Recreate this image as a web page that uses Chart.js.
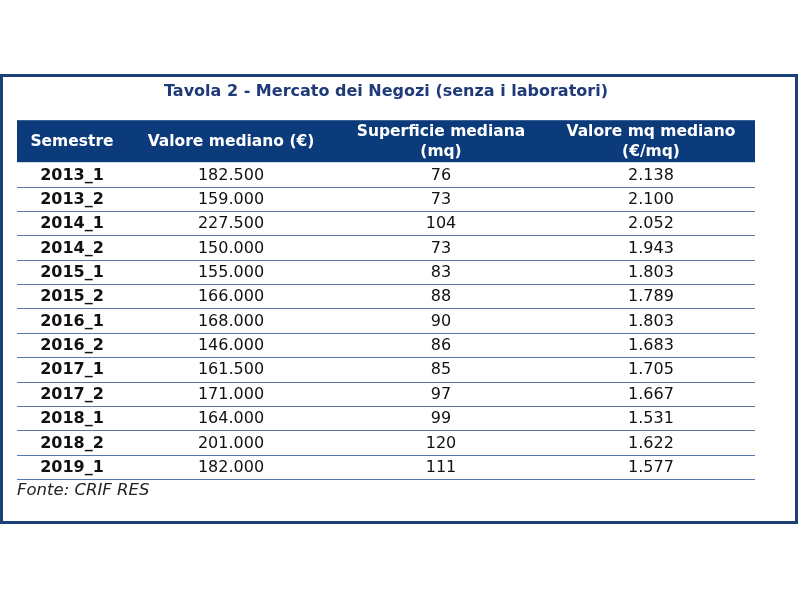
<!DOCTYPE html>
<html>
<head>
<meta charset="utf-8">
<script src="https://cdn.jsdelivr.net/npm/chart.js@4/dist/chart.umd.min.js"></script>
<style>
  html, body { margin: 0; padding: 0; background: #fff; }
  canvas { display: block; }
</style>
</head>
<body>
<canvas id="tavola" width="800" height="600"></canvas>
<script>
// Dati della tabella
const semestri = ['2013_1', '2013_2', '2014_1', '2014_2', '2015_1', '2015_2', '2016_1',
    '2016_2', '2017_1', '2017_2', '2018_1', '2018_2', '2019_1'];
const valoreMediano = [182500, 159000, 227500, 150000, 155000, 166000, 168000,
    146000, 161500, 171000, 164000, 201000, 182000];
const superficieMediana = [76, 73, 104, 73, 83, 88, 90, 86, 85, 97, 99, 120, 111];
const valoreMqMediano = [2138, 2100, 2052, 1943, 1803, 1789, 1803, 1683, 1705, 1667,
    1531, 1622, 1577];
const intestazioni = [
    ['Semestre'],
    ['Valore mediano (€)'],
    ['Superficie mediana', '(mq)'],
    ['Valore mq mediano', '(€/mq)']
];
const titolo = 'Tavola 2 - Mercato dei Negozi (senza i laboratori)';
const fonte = 'Fonte: CRIF RES';

// Larghezze colonne (unità dell'asse x)
const larghezzeColonne = [110, 208, 212, 208];
const centriColonne = larghezzeColonne.map((w, i) =>
    larghezzeColonne.slice(0, i).reduce((a, b) => a + b, 0) + w / 2);
const totaleLarghezza = larghezzeColonne.reduce((a, b) => a + b, 0);

const FONT = '"DejaVu Sans", Verdana, sans-serif';
const BLU_BORDO = '#1b3f77';
const BLU_TESTATA = '#0c3b7b';
const BLU_TITOLO = '#1f3a78';
const BLU_RIGHE = '#5576ad';

// Formattazione con separatore delle migliaia
function formatNumero(n) {
    return String(n).replace(/\B(?=(\d{3})+(?!\d))/g, '.');
}

function colonna(i, valori) {
    return valori.map((v, r) => ({ x: centriColonne[i], y: semestri[r], testo: v }));
}

const tabellaPlugin = {
    id: 'tabella',
    beforeDraw(chart) {
        const ctx = chart.ctx;
        const area = chart.chartArea;
        const xs = chart.scales.x;
        ctx.save();
        ctx.fillStyle = '#fff';
        ctx.fillRect(0, 0, chart.width, chart.height);

        // bordo esterno
        ctx.strokeStyle = BLU_BORDO;
        ctx.lineWidth = 3;
        ctx.strokeRect(1.5, 75.5, 795, 447);

        // testata
        const hTestata = 42;
        ctx.fillStyle = BLU_TESTATA;
        ctx.fillRect(area.left, area.top - hTestata, area.right - area.left, hTestata);
        ctx.fillStyle = '#fff';
        ctx.font = 'bold 15.5px ' + FONT;
        ctx.textAlign = 'center';
        ctx.textBaseline = 'middle';
        intestazioni.forEach((righe, i) => {
            const x = xs.getPixelForValue(centriColonne[i]);
            const yc = area.top - hTestata / 2 + 1;
            const passo = 20;
            righe.forEach((t, k) => {
                ctx.fillText(t, x, yc + (k - (righe.length - 1) / 2) * passo);
            });
        });
        ctx.restore();
    },
    afterDatasetsDraw(chart) {
        const ctx = chart.ctx;
        const area = chart.chartArea;
        const ys = chart.scales.y;
        ctx.save();
        ctx.textAlign = 'center';
        ctx.textBaseline = 'middle';
        chart.data.datasets.forEach((ds, i) => {
            const meta = chart.getDatasetMeta(i);
            ctx.font = (i === 0 ? 'bold ' : '') + '16px ' + FONT;
            ctx.fillStyle = '#111';
            meta.data.forEach((el, r) => {
                const v = ds.data[r].testo;
                ctx.fillText(typeof v === 'number' ? formatNumero(v) : v, el.x, el.y + 1);
            });
        });

        // linee di separazione righe
        const meta = (ys.getPixelForValue(1) - ys.getPixelForValue(0)) / 2;
        ctx.strokeStyle = BLU_RIGHE;
        ctx.lineWidth = 1;
        semestri.forEach((s, r) => {
            const y = Math.round(ys.getPixelForValue(r) + meta) + 0.5;
            ctx.beginPath();
            ctx.moveTo(area.left, y);
            ctx.lineTo(area.right, y);
            ctx.stroke();
        });

        // fonte
        ctx.fillStyle = '#222';
        ctx.font = 'italic 16.5px ' + FONT;
        ctx.textAlign = 'left';
        ctx.fillText(fonte, area.left, area.bottom + 12);
        ctx.restore();
    }
};

new Chart(document.getElementById('tavola'), {
    type: 'scatter',
    data: {
        datasets: [
            { data: colonna(0, semestri) },
            { data: colonna(1, valoreMediano) },
            { data: colonna(2, superficieMediana) },
            { data: colonna(3, valoreMqMediano) }
        ]
    },
    options: {
        responsive: false,
        animation: false,
        layout: { padding: { left: 17, right: 45, top: 82, bottom: 121 } },
        elements: { point: { radius: 0, hoverRadius: 0 } },
        scales: {
            x: { type: 'linear', min: 0, max: totaleLarghezza, display: false },
            y: { type: 'category', labels: semestri, offset: true, display: false }
        },
        plugins: {
            legend: { display: false },
            tooltip: { enabled: false },
            title: {
                display: true,
                text: titolo,
                color: BLU_TITOLO,
                font: { family: FONT, size: 16, weight: 'bold', lineHeight: 1.2 },
                padding: { top: 0, bottom: 61 }
            }
        }
    },
    plugins: [tabellaPlugin]
});
</script>
</body>
</html>
